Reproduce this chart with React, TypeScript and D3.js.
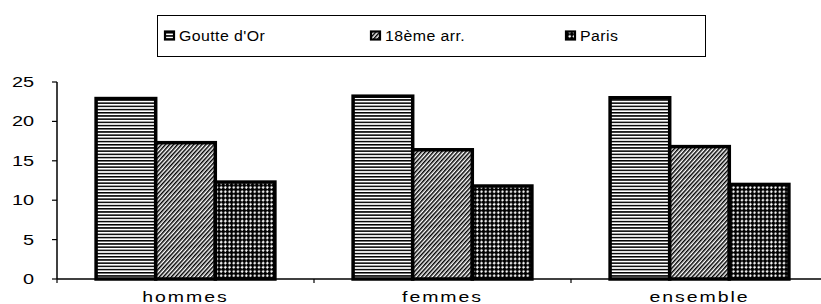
import React from "react";
import * as d3 from "d3";

const categories = ["hommes", "femmes", "ensemble"];
const seriesNames = ["Goutte d'Or", "18ème arr.", "Paris"];
const goutteDOr = [22.9, 23.2, 23.0];
const dixHuitieme = [17.3, 16.4, 16.8];
const paris = [12.3, 11.8, 12.0];
const yTicks = [0, 5, 10, 15, 20, 25];

const W = 821;
const H = 304;
const margin = { left: 57, right: -7, top: 82, bottom: 25 };

export default function App() {
  const series = [goutteDOr, dixHuitieme, paris];
  const patterns = ["pHoriz", "pDiag", "pDots"];
  const x = d3.scaleBand().domain(categories).range([margin.left, W - margin.right]).paddingInner(0).paddingOuter(0);
  const y = d3.scaleLinear().domain([0, 25]).range([H - margin.bottom, margin.top]);
  const barW = 59.6;
  const inner = d3.scaleBand().domain(seriesNames).range([0, barW * 3]);
  const groupOffset = (x.bandwidth() - barW * 3) / 2;
  const legendX = [165, 371, 566];
  const font = "'Liberation Sans', Arial, sans-serif";
  const boundaries = [margin.left, ...categories.map((c) => (x(c) as number) + x.bandwidth())];
  return (
    <div style={{ position: "absolute", left: 0, top: 0 }}>
      <svg width={W} height={H} style={{ display: "block", background: "#fff" }}>
        <defs>
          <pattern id="pHoriz" width="4" height="3.2" patternUnits="userSpaceOnUse">
            <rect width="4" height="3.2" fill="#fff" />
            <rect width="4" height="1.5" fill="#000" />
          </pattern>
          <pattern id="pDiag" width="3" height="3" patternUnits="userSpaceOnUse" patternTransform="rotate(42)">
            <rect width="3" height="3" fill="#fff" />
            <rect width="1.5" height="3" fill="#000" />
          </pattern>
          <pattern id="pDots" width="4.2" height="4.2" patternUnits="userSpaceOnUse">
            <rect width="4.2" height="4.2" fill="#fff" />
            <rect x="0" y="0" width="1.3" height="4.2" fill="#000" />
            <rect x="0" y="0" width="4.2" height="1.1" fill="#000" />
            <circle cx="0.65" cy="0.55" r="1.9" fill="#000" />
            <circle cx="4.85" cy="0.55" r="1.9" fill="#000" />
            <circle cx="0.65" cy="4.75" r="1.9" fill="#000" />
            <circle cx="4.85" cy="4.75" r="1.9" fill="#000" />
          </pattern>
        </defs>
        {/* legend */}
        <rect x={157.5} y={15.5} width={548} height={41} fill="#fff" stroke="#000" strokeWidth={1} />
        {seriesNames.map((s, i) => (
          <g key={s}>
            <rect x={legendX[i]} y={31.5} width={9} height={8} fill={`url(#${patterns[i]})`} stroke="#000" strokeWidth={2.2} />
            <text transform={`translate(${legendX[i] + 14},41) scale(1.06,1)`} fontFamily={font} fontSize={15} letterSpacing={0.4} fill="#000">{s}</text>
          </g>
        ))}
        {/* bars */}
        {categories.map((c, ci) => (
          <g key={c}>
            {series.map((vals, si) => {
              const bx = (x(c) as number) + groupOffset + (inner(seriesNames[si]) as number);
              return (
                <rect key={si} x={bx} y={y(vals[ci])} width={barW} height={y(0) - y(vals[ci])}
                  fill={`url(#${patterns[si]})`} stroke="#000" strokeWidth={3.5} />
              );
            })}
          </g>
        ))}
        {/* axes */}
        <line x1={margin.left} x2={margin.left} y1={y(25)} y2={y(0)} stroke="#000" strokeWidth={1.5} />
        <line x1={margin.left} x2={W - margin.right} y1={y(0)} y2={y(0)} stroke="#000" strokeWidth={1.5} />
        {yTicks.map((t) => (
          <g key={t}>
            <line x1={margin.left - 5} x2={margin.left} y1={y(t)} y2={y(t)} stroke="#000" strokeWidth={1.2} />
            <text transform={`translate(34,${y(t) + 5}) scale(1.42,1)`} textAnchor="end" fontFamily={font} fontSize={14} fill="#000">{t}</text>
          </g>
        ))}
        {boundaries.map((b, i) => (
          <line key={i} x1={b} x2={b} y1={y(0)} y2={y(0) + 4} stroke="#000" strokeWidth={1.2} />
        ))}
        {categories.map((c) => (
          <text key={c} transform={`translate(${(x(c) as number) + x.bandwidth() / 2},302) scale(1.3,1)`} textAnchor="middle" fontFamily={font} fontSize={15} letterSpacing={1.5} fill="#000">{c}</text>
        ))}
      </svg>
    </div>
  );
}
